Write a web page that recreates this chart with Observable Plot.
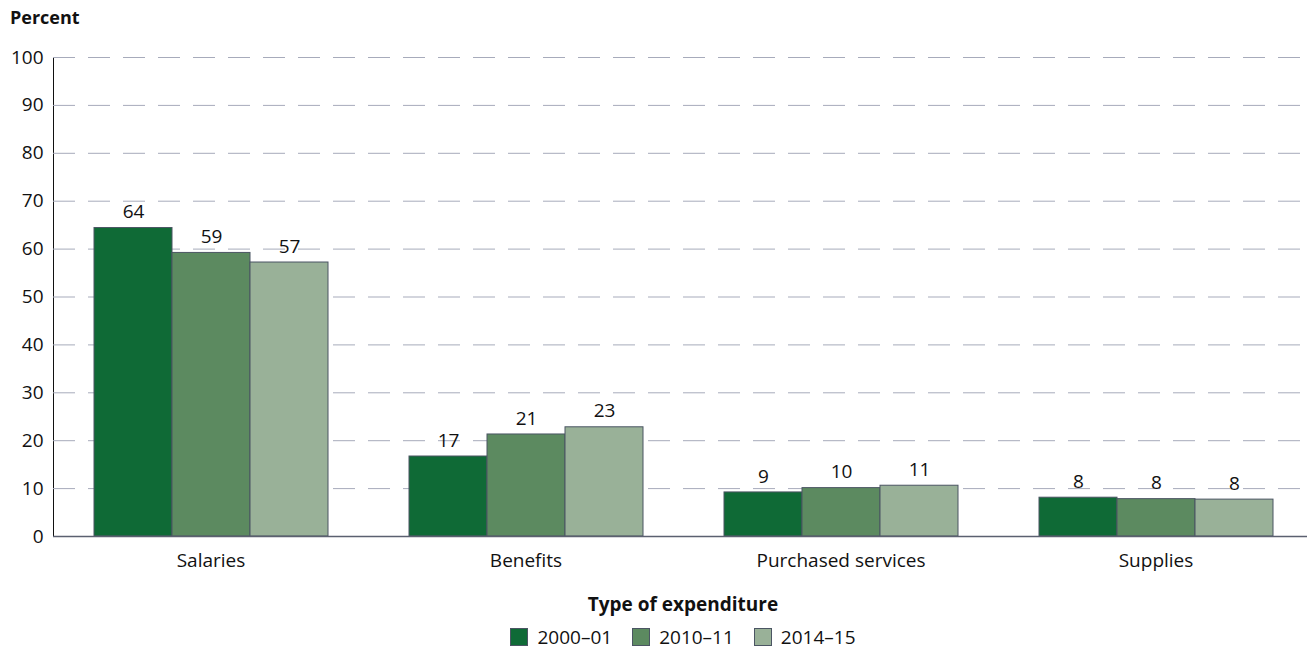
<!DOCTYPE html>
<html><head><meta charset="utf-8">
<script src="https://cdn.jsdelivr.net/npm/d3@7"></script>
<script src="https://cdn.jsdelivr.net/npm/@observablehq/plot@0.6"></script>
<style>
body{margin:0;background:#fff;font-family:"Open Sans",sans-serif;color:#111;}
#title{height:34px;line-height:34px;padding-left:10px;font-weight:bold;font-size:18px;}
#xlabel{margin-left:53px;width:1260px;text-align:center;height:40px;line-height:40px;font-weight:bold;font-size:19px;}
#legend{margin-left:53px;width:1260px;height:26px;display:flex;justify-content:center;align-items:center;font-size:19px;}
.item{display:flex;align-items:center;margin:0 10px;}
.sw{width:18px;height:18px;border:1px solid #4b5563;margin-right:9px;box-sizing:border-box;}
</style></head><body>
<div id="title">Percent</div>
<div id="chart"></div>
<div id="xlabel">Type of expenditure</div>
<div id="legend"></div>
<script>
const categories = ["Salaries", "Benefits", "Purchased services", "Supplies"];
const years = ["2000–01", "2010–11", "2014–15"];
const salaries = [64.4, 59.2, 57.2];
const benefits = [16.7, 21.3, 22.8];
const purchasedServices = [9.2, 10.1, 10.6];
const supplies = [8.1, 7.8, 7.7];
const colors = ["#0f6a36", "#5c8a60", "#99b198"];

const seriesByCategory = [salaries, benefits, purchasedServices, supplies];
const rows = categories.flatMap((c, i) => years.map((y, j) => ({category: c, year: y, value: seriesByCategory[i][j]})));
const gridValues = d3.range(10, 101, 10);

const chart = Plot.plot({
  width: 1307, height: 550,
  marginLeft: 53, marginRight: -6, marginTop: 23, marginBottom: 48,
  style: {fontFamily: "'Open Sans', sans-serif", fontSize: "19px", color: "#111", background: "white"},
  facet: {data: rows, x: "category"},
  fx: {domain: categories, padding: 0, label: null, tickSize: 0, tickPadding: 17},
  x: {domain: years, paddingInner: 0, paddingOuter: 0.5, axis: null},
  y: {domain: [0, 100], ticks: 10, tickSize: 0, tickPadding: 10, label: null, line: true},
  color: {domain: years, range: colors},
  marks: [
    Plot.ruleY(gridValues, {stroke: "#a7abbb", strokeDasharray: "22,13", strokeWidth: 1}),
    Plot.barY(rows, {x: "year", y: "value", fill: "year", stroke: "#4b5563", strokeWidth: 1}),
    Plot.text(rows, {x: "year", y: "value", text: d => String(Math.round(d.value)), dy: -16, fill: "#111"}),
    Plot.ruleY([0], {stroke: "#5b6070", strokeWidth: 1.5})
  ]
});
document.getElementById("chart").appendChild(chart);

const legend = document.getElementById("legend");
years.forEach((y, i) => {
  const item = document.createElement("div");
  item.className = "item";
  const sw = document.createElement("div");
  sw.className = "sw";
  sw.style.background = colors[i];
  const t = document.createElement("span");
  t.textContent = y;
  item.appendChild(sw); item.appendChild(t);
  legend.appendChild(item);
});
</script>
</body></html>
